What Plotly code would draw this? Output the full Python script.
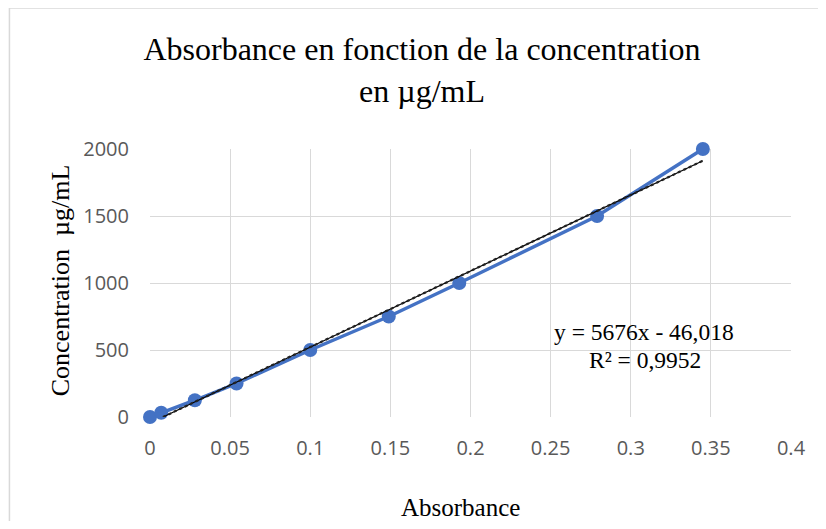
import plotly.graph_objects as go

absorbance = [0, 0.007, 0.028, 0.054, 0.1, 0.149, 0.193, 0.279, 0.345]
concentration = [0, 31.25, 125, 250, 500, 750, 1000, 1500, 2000]
slope = 5676
intercept = -46.018
x_ticks = [0, 0.05, 0.1, 0.15, 0.2, 0.25, 0.3, 0.35, 0.4]
y_ticks = [0, 500, 1000, 1500, 2000]

trend_x = [-intercept / slope, max(absorbance)]
trend_y = [slope * v + intercept for v in trend_x]

fig = go.Figure()
fig.add_trace(go.Scatter(x=absorbance, y=concentration, mode="lines+markers",
                         line=dict(color="#4472C4", width=3.5),
                         marker=dict(color="#4472C4", size=14),
                         cliponaxis=False, showlegend=False))
fig.add_trace(go.Scatter(x=trend_x, y=trend_y, mode="lines",
                         line=dict(color="#000000", width=1.2),
                         cliponaxis=False, showlegend=False))
fig.add_trace(go.Scatter(x=trend_x, y=trend_y, mode="lines",
                         line=dict(color="#222222", width=2.2, dash="dot"),
                         cliponaxis=False, showlegend=False))

serif = "Liberation Serif, Times New Roman, serif"
tickfont = dict(family="Open Sans, Liberation Sans, sans-serif", size=20, color="#595959")

# page has an 8px body margin: figure coords = page coords - 8
fig.update_layout(
    width=810, height=513,
    margin=dict(l=142, r=25, t=141, b=104),
    paper_bgcolor="white", plot_bgcolor="white",
    title=dict(text="Absorbance en fonction de la concentration<br>en µg/mL",
               x=414 / 810, xanchor="center", y=1 - 52 / 513, yanchor="middle",
               font=dict(family=serif, size=32, color="#000000")),
    xaxis=dict(range=[0, 0.4], tickvals=x_ticks, ticktext=[str(t) for t in x_ticks],
               showgrid=True, gridcolor="#d9d9d9", gridwidth=1,
               zeroline=False, showline=False, tickfont=tickfont,
               ticklabelstandoff=17),
    yaxis=dict(range=[0, 2000], tickvals=y_ticks, ticktext=[str(t) for t in y_ticks],
               showgrid=True, gridcolor="#d9d9d9", gridwidth=1,
               zeroline=False, showline=False, tickfont=tickfont,
               ticklabelstandoff=20),
    annotations=[
        dict(text="Absorbance", xref="paper", yref="paper",
             x=(461 - 150) / 643, y=(417 - 507) / 268, showarrow=False,
             xanchor="center", yanchor="middle",
             font=dict(family=serif, size=25, color="#000000")),
        dict(text="Concentration  µg/mL", xref="paper", yref="paper",
             x=(60 - 150) / 643, y=(417 - 280) / 268, showarrow=False, textangle=-90,
             xanchor="center", yanchor="middle",
             font=dict(family=serif, size=26, color="#000000")),
        dict(text="y = 5676x - 46,018", xref="paper", yref="paper",
             x=(646 - 150) / 643, y=(417 - 332) / 268, showarrow=False,
             xanchor="center", yanchor="middle",
             font=dict(family=serif, size=23.5, color="#000000")),
        dict(text="R² = 0,9952", xref="paper", yref="paper",
             x=(647 - 150) / 643, y=(417 - 360) / 268, showarrow=False,
             xanchor="center", yanchor="middle",
             font=dict(family=serif, size=23.5, color="#000000")),
    ],
    shapes=[dict(type="rect", xref="paper", yref="paper",
                 x0=(9 - 150) / 643, x1=1.2, y0=-0.6, y1=(417 - 8) / 268,
                 line=dict(color="#d9d9d9", width=1.5), layer="below")],
)

fig.write_html("out.html")
